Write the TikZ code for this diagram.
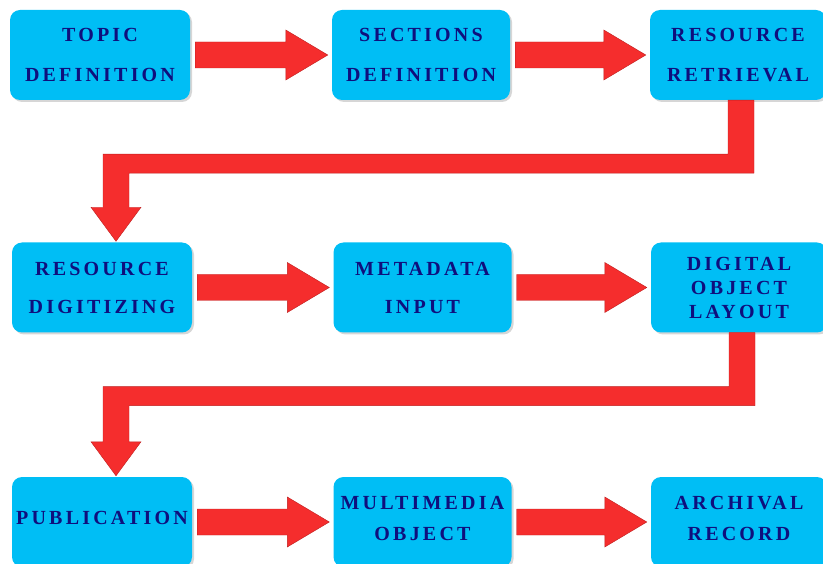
\documentclass[tikz,border=0pt]{standalone}
\usepackage{fontspec}
\usepackage{xcolor}
\usepackage{tikz}
\usetikzlibrary{calc,shadows}
\newfontfamily\cajafont{Liberation Serif}[LetterSpace=16,BoldFont={Liberation Serif Bold}]
\definecolor{cajaazul}{RGB}{0,190,245}
\definecolor{textoazul}{RGB}{15,15,125}
\definecolor{flecharoja}{RGB}{245,45,45}
\definecolor{bordeflecha}{RGB}{190,30,30}

% flecha gruesa horizontal
\newcommand{\flechader}[2]{%
  \filldraw[flecha] let \p1=(#1.east), \p2=(#2.west) in
    (\x1+5,\y1+13) -- (\x2-46,\y1+13) -- (\x2-46,\y1+25) -- (\x2-4,\y1)
    -- (\x2-46,\y1-25) -- (\x2-46,\y1-13) -- (\x1+5,\y1-13) -- cycle;}
% flecha con codo hacia la fila siguiente
\newcommand{\flechagiro}[2]{%
  \filldraw[flecha] let \p1=(#1.south), \p2=(#2.north) in
    (\x1+16,\y1) -- (\x1+16,\y1-73) -- (\x2+27,\y1-73) -- (\x2+27,\y2+35)
    -- (\x2+39,\y2+35) -- (\x2+14,\y2+1) -- (\x2-11,\y2+35) -- (\x2+1,\y2+35)
    -- (\x2+1,\y1-54) -- (\x1-10,\y1-54) -- (\x1-10,\y1) -- cycle;}

\begin{document}
\begin{tikzpicture}[x=1pt,y=1pt,
    etapa/.style={fill=cajaazul, rounded corners=10pt, minimum width=178pt,
      minimum height=90pt, inner sep=1pt, align=center, text=textoazul,
      font=\cajafont\bfseries\fontsize{20}{38}\selectfont,
      drop shadow={shadow xshift=2pt, shadow yshift=-2pt, fill=black!40, opacity=0.4}},
    flecha/.style={fill=flecharoja, draw=bordeflecha, line width=0.4pt}]
        \useasboundingbox (0,0) rectangle (823,-564);

        % Fila 1
        \node[etapa, minimum width=180pt] (tema) at (100,-55) {TOPIC\\[2pt]DEFINITION};
        \node[etapa] (secciones) at (421,-55) {SECTIONS\\[2pt]DEFINITION};
        \node[etapa, minimum width=176pt] (busqueda) at (738,-55) {RESOURCE\\[2pt]RETRIEVAL};

        % Fila 2
        \node[etapa, minimum width=180pt] (digital) at (102,-287.5) {RESOURCE\\DIGITIZING};
        \node[etapa] (metadatos) at (422.5,-287.5) {METADATA\\INPUT};
        \node[etapa, minimum width=176pt] (maqueta) at (739,-287.5) {DIGITAL\\[-14pt]OBJECT\\[-14pt]LAYOUT};

        % Fila 3 (texto un poco mas arriba)
        \node[etapa, minimum width=180pt] (publica) at (102,-522) {PUBLICATION\\[-30pt]\mbox{}};
        \node[etapa] (multimedia) at (422.5,-522) {MULTIMEDIA\\[-7pt]OBJECT\\[-30pt]\mbox{}};
        \node[etapa, minimum width=176pt] (archivo) at (739,-522) {ARCHIVAL\\[-7pt]RECORD\\[-30pt]\mbox{}};

        % Flechas
        \flechader{tema}{secciones}
        \flechader{secciones}{busqueda}
        \flechagiro{busqueda}{digital}
        \flechader{digital}{metadatos}
        \flechader{metadatos}{maqueta}
        \flechagiro{maqueta}{publica}
        \flechader{publica}{multimedia}
        \flechader{multimedia}{archivo}

    \end{tikzpicture}
\end{document}
